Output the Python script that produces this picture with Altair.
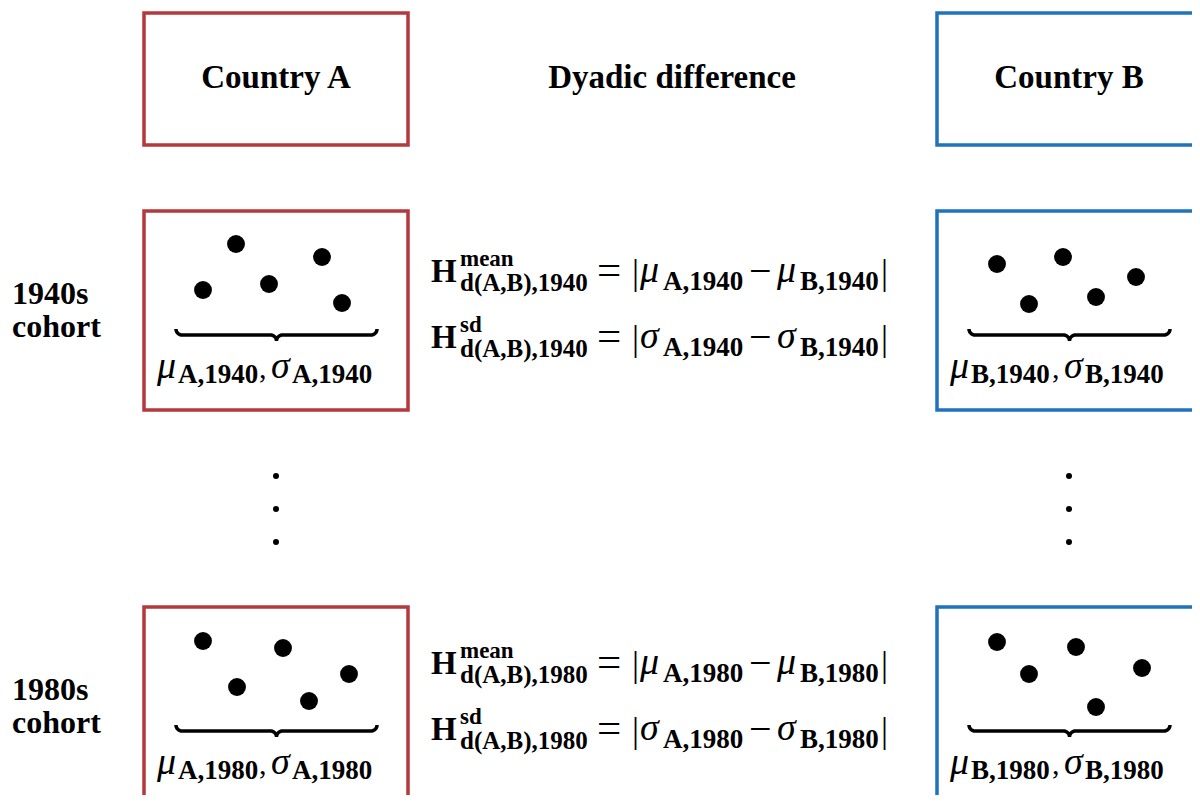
# Diagrama: diferença diádica entre coortes de dois países
import altair as alt
import numpy as np
import pandas as pd

# Cores dos países
red = '#b5383c'
blue = '#1f72bd'
serif = 'Liberation Serif'

# Dados: países, coortes e pontos dentro de cada caixa
countries = ['A', 'B']
cohorts = ['1940', '1980']

dots_A1940_x = [203, 236, 269, 322, 342]
dots_A1940_y = [290, 244, 284, 257, 303]
dots_B1940_x = [997, 1063, 1029, 1096, 1136]
dots_B1940_y = [264, 257, 304, 297, 277]
dots_A1980_x = [203, 283, 237, 349, 309]
dots_A1980_y = [641, 648, 687, 674, 701]
dots_B1980_x = [997, 1076, 1029, 1142, 1096]
dots_B1980_y = [642, 647, 674, 668, 707]

# Layout (coordenadas da página)
box_left = {'A': 144, 'B': 937}
box_right = {'A': 408, 'B': 1201}
cohort_dy = {'1940': 0, '1980': 396}
formula_dy = {'1940': 0, '1980': 392}

# Caixas (cabeçalhos e coortes)
boxes = []
for c in countries:
    boxes.append(dict(x=box_left[c], x2=box_right[c], y=13, y2=145, country=c))
    for k in cohorts:
        boxes.append(dict(x=box_left[c], x2=box_right[c], y=211 + cohort_dy[k],
                          y2=410 + cohort_dy[k], country=c))
boxes = pd.DataFrame(boxes)

# Pontos
dots = pd.DataFrame({
    'x': dots_A1940_x + dots_B1940_x + dots_A1980_x + dots_B1980_x,
    'y': dots_A1940_y + dots_B1940_y + dots_A1980_y + dots_B1980_y,
})

# Reticências verticais
vdots = pd.DataFrame({'x': [276] * 3 + [1069] * 3, 'y': [476, 509, 542] * 2})

# Chaves (underbrace)
def brace(x0, x1, y, r, key):
    xc = (x0 + x1) / 2
    parts = [
        (x0 + r, y - r, np.pi, np.pi / 2),
        (xc - r, y + r, -np.pi / 2, 0),
        (xc + r, y + r, np.pi, 1.5 * np.pi),
        (x1 - r, y - r, np.pi / 2, 0),
    ]
    pts = []
    for cx, cy, t0, t1 in parts:
        t = np.linspace(t0, t1, 12)
        pts += list(zip(cx + r * np.cos(t), cy + r * np.sin(t)))
    return pd.DataFrame({'x': [p[0] for p in pts], 'y': [p[1] for p in pts],
                         'order': range(len(pts)), 'key': key})

brace_df = []
for c in countries:
    dx = 0 if c == 'A' else 793
    for k in cohorts:
        brace_df.append(brace(176 + dx, 377 + dx, 335 + cohort_dy[k], 6, c + k))
brace_df = pd.concat(brace_df)

# Textos: negrito, regular e itálico (grego)
bold, regular, italic = [], [], []

# Cabeçalhos
bold += [dict(x=276, y=88, t='Country A', s=33, a='center'),
         dict(x=672, y=88, t='Dyadic difference', s=33, a='center'),
         dict(x=1069, y=88, t='Country B', s=33, a='center')]

for k in cohorts:
    dy = cohort_dy[k]
    # Rótulos das linhas
    bold += [dict(x=12, y=304 + dy, t=k + 's', s=32, a='left'),
             dict(x=12, y=337 + dy, t='cohort', s=32, a='left')]
    # Rótulos sob as chaves
    for c in countries:
        dx = 0 if c == 'A' else 793
        italic += [dict(x=157 + dx, y=378 + dy, t='μ', s=38, a='left'),
                   dict(x=271 + dx, y=378 + dy, t='σ', s=38, a='left')]
        bold += [dict(x=178 + dx, y=383 + dy, t=f'{c},{k}', s=27, a='left'),
                 dict(x=292 + dx, y=383 + dy, t=f'{c},{k}', s=27, a='left')]
        regular += [dict(x=259 + dx, y=378 + dy, t=',', s=30, a='left')]
    # Fórmulas
    fy = formula_dy[k]
    for line, (sup, g) in enumerate([('mean', 'μ'), ('sd', 'σ')]):
        b = 282 + 66 * line + fy
        bold += [dict(x=431, y=b, t='H', s=33, a='left'),
                 dict(x=460, y=b - 16, t=sup, s=23, a='left'),
                 dict(x=460, y=b + 9, t=f'd(A,B),{k}', s=25, a='left'),
                 dict(x=663, y=b + 8, t=f'A,{k}', s=27, a='left'),
                 dict(x=800, y=b + 8, t=f'B,{k}', s=27, a='left')]
        regular += [dict(x=597, y=b + 2, t='=', s=43, a='left'),
                    dict(x=632, y=b + 2, t='|', s=35, a='left'),
                    dict(x=749, y=b + 2, t='−', s=40, a='left'),
                    dict(x=881, y=b + 2, t='|', s=35, a='left')]
        italic += [dict(x=640, y=b, t=g, s=38, a='left'),
                   dict(x=777, y=b, t=g, s=38, a='left')]

bold, regular, italic = pd.DataFrame(bold), pd.DataFrame(regular), pd.DataFrame(italic)

# Escalas em pixels da página
xs = alt.Scale(domain=[8, 1192])
ys = alt.Scale(domain=[8, 795], reverse=True)
X = lambda f='x': alt.X(f'{f}:Q', scale=xs, axis=None)
Y = lambda f='y': alt.Y(f'{f}:Q', scale=ys, axis=None)

rects = alt.Chart(boxes).mark_rect(fill='white', strokeWidth=3.5).encode(
    x=X(), x2='x2', y=Y(), y2='y2',
    stroke=alt.Stroke('country:N', scale=alt.Scale(domain=countries, range=[red, blue]), legend=None))

points = alt.Chart(dots).mark_circle(size=320, color='black', opacity=1).encode(x=X(), y=Y())
small = alt.Chart(vdots).mark_circle(size=36, color='black', opacity=1).encode(x=X(), y=Y())

braces = alt.Chart(brace_df).mark_line(color='black', strokeWidth=3.5).encode(
    x=X(), y=Y(), detail='key:N', order='order:Q')

def texts(df, **kw):
    layers = []
    for a in df['a'].unique():
        layers.append(alt.Chart(df[df['a'] == a]).mark_text(
            align=a, baseline='alphabetic', font=serif, color='black', **kw).encode(
            x=X(), y=Y(), text='t:N', size=alt.Size('s:Q', scale=None)))
    return layers

chart = alt.layer(
    rects, points, small, braces,
    *texts(bold, fontWeight='bold'),
    *texts(regular),
    *texts(italic, fontStyle='italic'),
).properties(
    width=1184, height=787, padding=0, autosize=alt.AutoSizeParams(type='none')
).configure_view(stroke=None)

chart.save('out.html', embed_options={'renderer': 'svg', 'actions': False})
